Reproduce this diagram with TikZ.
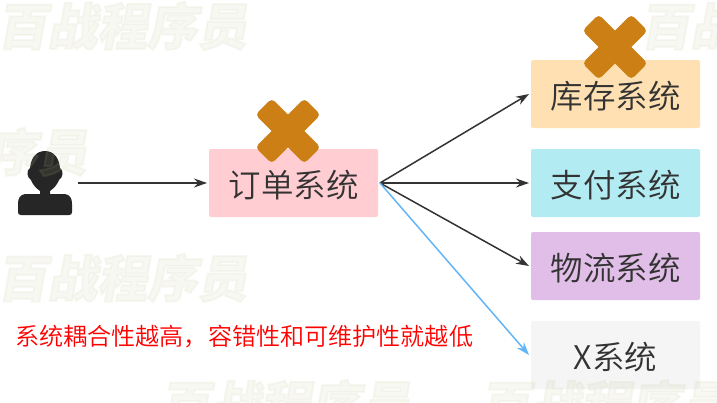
\documentclass[tikz,border=0pt]{standalone}
\usepackage{fontspec}
\setmainfont{Noto Sans CJK SC DemiLight}
\newfontfamily\wmfont[FakeSlant=0.18,FakeBold=4]{Noto Sans CJK SC Black}
\usetikzlibrary{arrows.meta}
\definecolor{ink}{HTML}{333333}
\definecolor{xmark}{HTML}{CC7F14}
\definecolor{wire}{HTML}{64B5F6}
\definecolor{wmcol}{RGB}{193,193,140}
\newcommand{\lowered}[1]{\raisebox{-2.5pt}[\height][\depth]{#1}}
\tikzset{
  sysbox/.style={rectangle,rounded corners=2pt,minimum width=169pt,minimum height=68pt,inner sep=0pt,outer sep=2pt,text=ink,font=\fontsize{32.5}{32.5}\selectfont},
  link/.style={draw=ink,line width=1.5pt,-{Stealth[length=13pt,width=9pt]}},
  bluelink/.style={draw=wire,line width=1.5pt,-{Stealth[length=13pt,width=9pt]}},
  cross/.style={rectangle,fill=xmark,rounded corners=4pt,minimum width=69pt,minimum height=23pt,inner sep=0pt},
  wm/.style={anchor=west,inner sep=0pt,text=wmcol,text opacity=.1,font=\wmfont\fontsize{50}{50}\selectfont},
  note/.style={text=red,inner sep=0pt,anchor=west,font=\fontsize{24.1}{24.1}\selectfont}
}
\begin{document}
\begin{tikzpicture}[x=1pt,y=-1pt]
\useasboundingbox (0,0) rectangle (717,402);
\fill[white] (0,0) rectangle (717,402);
% boxes
\node[sysbox,fill={rgb,255:red,255;green,205;blue,210}] (order) at (293.5,183) {\lowered{订单系统}};
\node[sysbox,fill={rgb,255:red,255;green,224;blue,178}] (stock) at (615.5,94) {\lowered{库存系统}};
\node[sysbox,fill={rgb,255:red,178;green,235;blue,242}] (pay) at (615.5,183) {\lowered{支付系统}};
\node[sysbox,fill={rgb,255:red,225;green,190;blue,231}] (ship) at (615.5,266) {\lowered{物流系统}};
\node[sysbox,fill={rgb,255:red,245;green,245;blue,245}] (xsys) at (615.5,355) {\lowered{X系统}};
% person
\node[minimum width=55pt,minimum height=65pt,inner sep=0pt,outer sep=5pt] (person) at (45.5,183) {};
\fill[black!85] (45,151) .. controls (36,151) and (31,158) .. (30,168)
  .. controls (26,170) and (27,178) .. (31,180)
  .. controls (33,185) and (36,188) .. (40,191) -- (40,194)
  -- (25,194) .. controls (20,195) and (18,198) .. (18,204) -- (18,212)
  .. controls (18,214) and (19,215) .. (21,215) -- (69,215)
  .. controls (71,215) and (72,214) .. (72,212) -- (72,204)
  .. controls (72,198) and (70,195) .. (65,194) -- (50,194) -- (50,191)
  .. controls (54,188) and (57,185) .. (59,180)
  .. controls (63,178) and (64,170) .. (60,168)
  .. controls (59,158) and (54,151) .. (45,151) -- cycle;
% crosses
\node[cross,rotate=45] (o1) at (288,131) {};
\node[cross,rotate=-45] (o2) at (288,131) {};
\node[cross,rotate=45] (s1) at (615,47) {};
\node[cross,rotate=-45] (s2) at (615,47) {};
% connectors
\draw[link] (person.east) -- (order.west);
\draw[link] (order.east) -- (stock.west);
\draw[link] (order.east) -- (pay.west);
\draw[link] (order.east) -- (ship.west);
\draw[bluelink] (order.east) -- (xsys.west);
% note
\node[note] (caption) at (15,337) {系统耦合性越高，容错性和可维护性就越低};
% watermarks
\node[wm] (w1) at (-3,26) {百战程序员};
\node[wm] (w2) at (640,26) {百战程序员};
\node[wm] (w3) at (-163,152) {百战程序员};
\node[wm] (w4) at (-3,278) {百战程序员};
\node[wm] (w5) at (160,404) {百战程序员};
\node[wm] (w6) at (480,404) {百战程序员};
\end{tikzpicture}
\end{document}
